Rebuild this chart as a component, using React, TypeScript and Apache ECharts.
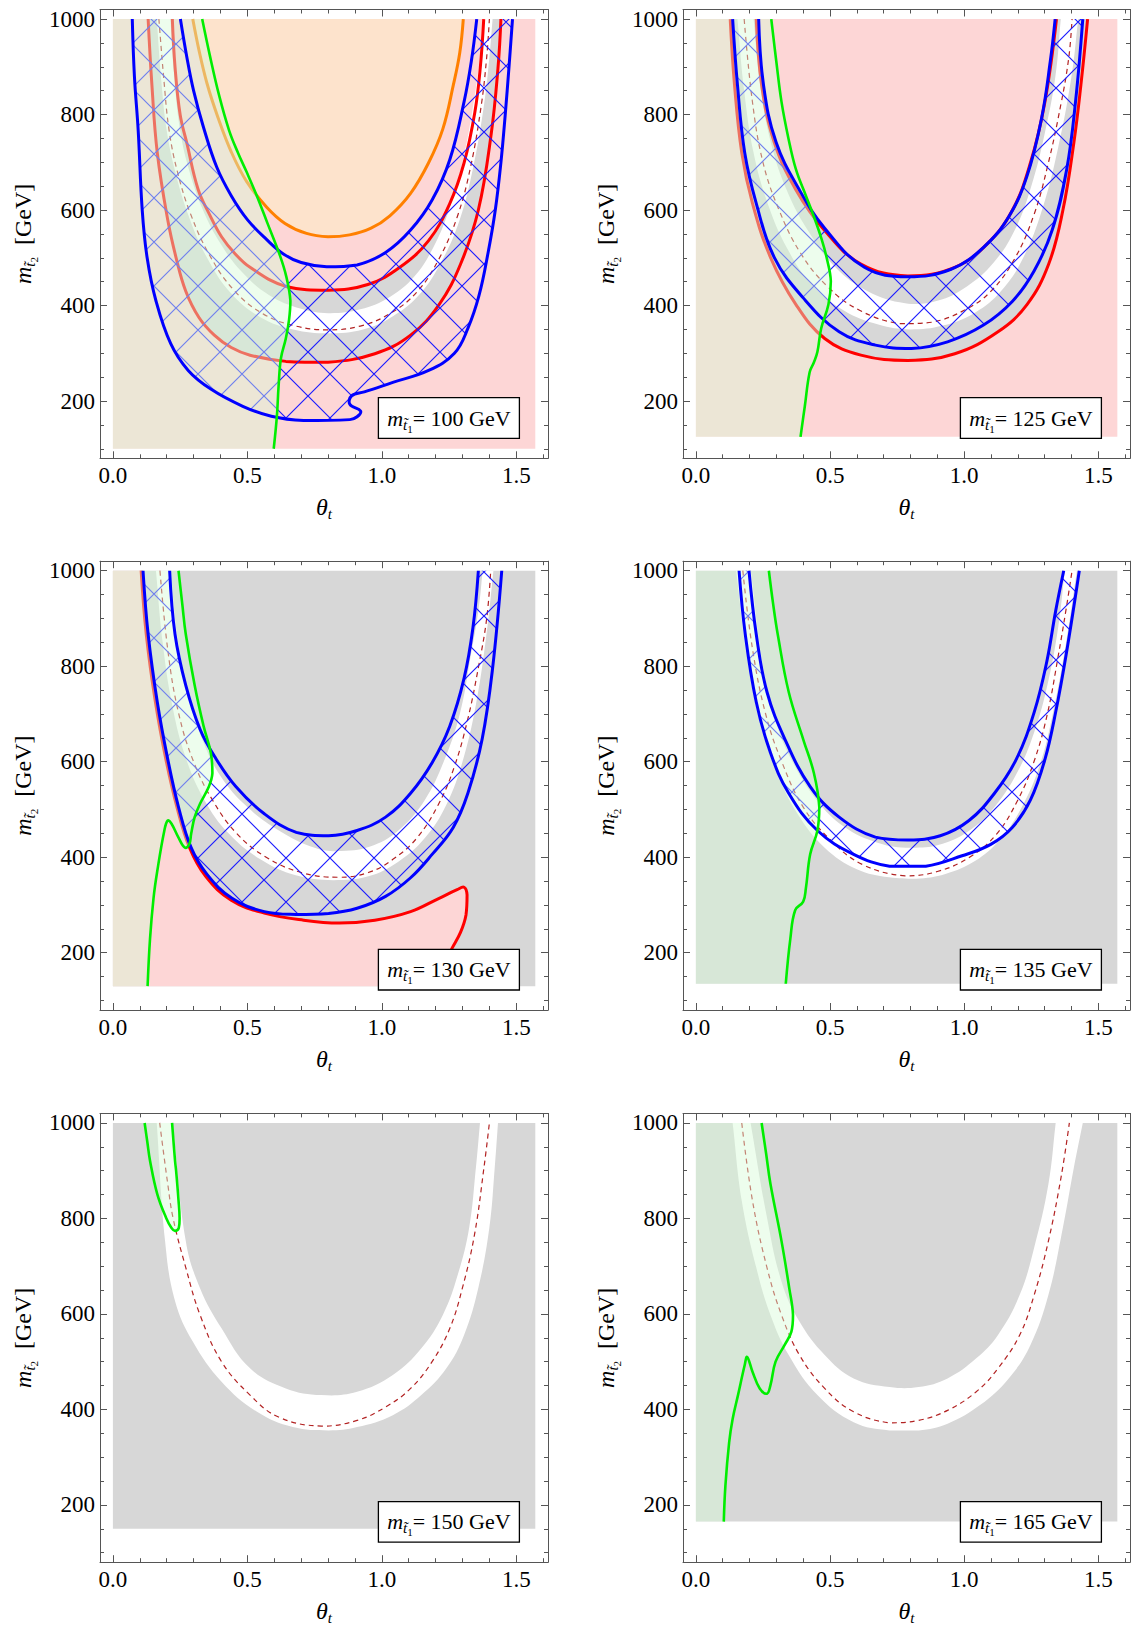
import React, { useEffect, useRef } from 'react';
import * as echarts from 'echarts';

// ---------- axis / tick data ----------
const THETA_MAX = 1.5708;
const M_MAX = 1000;
const X_MIN = -0.048;
const X_MAX = 1.618;
const Y_MIN = 80;
const Y_MAX = 1020;
const X_MAJOR = [0, 0.5, 1, 1.5];
const X_MINOR = [0.1, 0.2, 0.3, 0.4, 0.6, 0.7, 0.8, 0.9, 1.1, 1.2, 1.3, 1.4, 1.6];
const Y_MAJOR = [200, 400, 600, 800, 1000];
const Y_MINOR = [100, 150, 250, 300, 350, 450, 500, 550, 650, 700, 750, 850, 900, 950];
const M_T1 = [100, 125, 130, 135, 150, 165];

// ---------- panel 1 (m_t1 = 100 GeV) ----------
const P1_ORANGE = [[0.297,1000],[0.32,935],[0.35,865],[0.39,795],[0.44,722],[0.497,660],[0.572,606],[0.64,572],[0.72,551],[0.80,544],[0.88,548],[0.96,562],[1.03,588],[1.107,635],[1.174,699],[1.227,770],[1.266,862],[1.29,930],[1.303,1000]];
const P1_RED_OUT = [[0.131,1000],[0.145,862],[0.165,720],[0.204,579],[0.235,500],[0.271,430],[0.32,375],[0.377,338],[0.44,312],[0.51,296],[0.643,283],[0.80,281],[0.974,299],[1.107,338],[1.213,402],[1.293,487],[1.359,600],[1.406,756],[1.432,897],[1.443,1000]];
const P1_RED_IN = [[0.221,1000],[0.231,900],[0.25,800],[0.275,740],[0.317,643],[0.36,590],[0.404,544],[0.455,508],[0.51,480],[0.643,440],[0.80,432],[0.948,444],[1.067,480],[1.174,536],[1.253,614],[1.306,699],[1.346,805],[1.366,897],[1.379,1000]];
const P1_WHITE_OUT = [[0.163,1000],[0.18,870],[0.20,767],[0.232,680],[0.28,590],[0.35,500],[0.44,425],[0.55,375],[0.67,350],[0.80,342],[0.93,350],[1.04,377],[1.14,423],[1.22,490],[1.29,580],[1.34,690],[1.38,820],[1.40,920],[1.412,1000]];
const P1_WHITE_IN = [[0.214,1000],[0.228,880],[0.25,767],[0.285,680],[0.335,600],[0.40,530],[0.48,470],[0.58,422],[0.70,393],[0.80,384],[0.92,392],[1.03,418],[1.12,460],[1.19,520],[1.25,600],[1.30,700],[1.34,820],[1.365,920],[1.378,1000]];
const P1_DASH = [[0.171,1000],[0.19,870],[0.209,767],[0.24,680],[0.29,590],[0.36,505],[0.45,432],[0.56,382],[0.68,357],[0.80,349],[0.92,357],[1.03,383],[1.13,428],[1.21,495],[1.28,585],[1.33,690],[1.37,820],[1.39,920],[1.40,1000]];
const P1_BLUE_OUT = [[0.072,1000],[0.08,880],[0.094,767],[0.109,600],[0.127,501],[0.16,410],[0.215,320],[0.28,264],[0.364,225],[0.483,189],[0.589,168],[0.709,159],[0.881,161],[0.908,167],[0.921,179],[0.881,193],[0.888,211],[0.935,219],[1.041,239],[1.174,264],[1.27,300],[1.32,352],[1.361,420],[1.395,510],[1.422,600],[1.443,700],[1.459,800],[1.473,900],[1.486,1000]];
const P1_BLUE_IN = [[0.251,1000],[0.275,920],[0.30,850],[0.336,775],[0.386,690],[0.44,630],[0.50,580],[0.572,538],[0.634,508],[0.70,490],[0.795,481],[0.908,485],[1.014,511],[1.107,558],[1.187,621],[1.253,706],[1.306,827],[1.333,912],[1.353,1000]];
const P1_GREEN = [[0.332,1000],[0.36,925],[0.395,840],[0.432,767],[0.465,720],[0.497,680],[0.535,630],[0.575,572],[0.621,505],[0.645,460],[0.66,410],[0.655,370],[0.643,331],[0.625,290],[0.616,230],[0.61,170],[0.598,100]];

// ---------- panel 2 (125 GeV) ----------
const P2_RED_OUT = [[0.128,1000],[0.144,862],[0.171,720],[0.211,614],[0.278,501],[0.373,402],[0.48,331],[0.615,296],[0.79,285],[0.965,299],[1.126,345],[1.234,402],[1.315,487],[1.368,600],[1.409,742],[1.435,862],[1.46,1000]];
const P2_RED_IN = [[0.225,1000],[0.245,862],[0.292,742],[0.373,642],[0.48,557],[0.615,487],[0.79,462],[0.965,480],[1.086,529],[1.18,600],[1.247,699],[1.301,827],[1.344,1000]];
const P2_WHITE_OUT = [[0.155,1000],[0.18,850],[0.215,720],[0.27,610],[0.34,520],[0.43,445],[0.55,390],[0.68,360],[0.80,350],[0.92,358],[1.04,385],[1.14,432],[1.22,500],[1.29,600],[1.35,730],[1.40,880],[1.425,1000]];
const P2_WHITE_IN = [[0.215,1000],[0.24,860],[0.28,740],[0.34,640],[0.42,555],[0.52,480],[0.64,430],[0.78,405],[0.90,410],[1.01,440],[1.11,490],[1.19,560],[1.25,650],[1.30,760],[1.34,880],[1.36,1000]];
const P2_DASH = [[0.18,1000],[0.21,830],[0.25,700],[0.31,600],[0.39,510],[0.49,440],[0.61,390],[0.76,362],[0.88,365],[1.00,390],[1.10,430],[1.19,500],[1.26,590],[1.31,690],[1.36,820],[1.39,920],[1.402,1000]];
const P2_BLUE_OUT = [[0.137,1000],[0.155,862],[0.182,720],[0.225,614],[0.292,501],[0.40,416],[0.534,345],[0.669,317],[0.803,310],[0.938,324],[1.072,359],[1.18,409],[1.261,473],[1.328,558],[1.382,685],[1.415,827],[1.442,1000]];
const P2_BLUE_IN = [[0.234,1000],[0.252,862],[0.299,742],[0.386,642],[0.48,562],[0.628,480],[0.79,460],[0.951,476],[1.072,522],[1.166,586],[1.234,671],[1.288,791],[1.321,912],[1.339,1000]];
const P2_GREEN = [[0.281,1000],[0.30,910],[0.319,827],[0.345,750],[0.373,685],[0.41,630],[0.44,586],[0.468,540],[0.487,501],[0.503,451],[0.494,402],[0.467,352],[0.453,303],[0.44,281],[0.424,260],[0.406,189],[0.39,125]];

// ---------- panel 3 (130 GeV) ----------
const P3_RED = [[0.105,1000],[0.124,867],[0.158,725],[0.197,605],[0.238,505],[0.285,420],[0.345,360],[0.44,310],[0.563,283],[0.709,268],[0.842,262],[0.974,268],[1.107,286],[1.213,314],[1.28,332],[1.306,337],[1.317,321],[1.313,279],[1.293,243],[1.26,208],[1.24,185],[1.225,160],[1.215,130]];
const P3_WHITE_OUT = [[0.16,1000],[0.185,850],[0.22,720],[0.27,610],[0.34,520],[0.43,450],[0.55,395],[0.68,362],[0.82,352],[0.95,360],[1.06,390],[1.16,440],[1.24,510],[1.30,600],[1.35,720],[1.39,870],[1.415,1000]];
const P3_WHITE_IN = [[0.215,1000],[0.24,860],[0.28,740],[0.33,650],[0.40,570],[0.50,505],[0.62,455],[0.75,420],[0.85,413],[0.97,425],[1.07,460],[1.16,520],[1.23,600],[1.29,700],[1.33,820],[1.36,920],[1.375,1000]];
const P3_DASH = [[0.175,1000],[0.205,830],[0.245,700],[0.30,600],[0.37,520],[0.46,450],[0.57,400],[0.70,368],[0.84,358],[0.95,368],[1.04,395],[1.13,440],[1.21,510],[1.27,590],[1.32,690],[1.36,800],[1.39,900],[1.405,1000]];
const P3_BLUE_OUT = [[0.112,1000],[0.131,867],[0.165,725],[0.204,605],[0.244,505],[0.291,420],[0.35,364],[0.443,314],[0.563,286],[0.682,280],[0.802,282],[0.908,293],[1.014,318],[1.107,357],[1.187,406],[1.266,463],[1.32,534],[1.373,647],[1.412,796],[1.446,1000]];
const P3_BLUE_IN = [[0.211,1000],[0.231,867],[0.271,760],[0.324,668],[0.377,612],[0.457,548],[0.563,491],[0.682,452],[0.802,445],[0.908,456],[1.014,484],[1.107,534],[1.187,598],[1.253,675],[1.306,775],[1.339,881],[1.359,1000]];
const P3_GREEN = [[0.244,1000],[0.258,930],[0.271,867],[0.304,760],[0.337,675],[0.364,619],[0.37,576],[0.357,548],[0.324,512],[0.304,484],[0.291,449],[0.284,427],[0.268,420],[0.244,441],[0.218,470],[0.204,477],[0.191,455],[0.165,371],[0.151,314],[0.138,229],[0.129,130]];

// ---------- panel 4 (135 GeV) ----------
const P4_WHITE_OUT = [[0.15,1000],[0.19,820],[0.24,680],[0.30,580],[0.38,490],[0.48,420],[0.60,375],[0.72,358],[0.82,355],[0.93,365],[1.04,392],[1.13,435],[1.21,500],[1.28,590],[1.33,700],[1.38,850],[1.42,1000]];
const P4_WHITE_IN = [[0.205,1000],[0.25,800],[0.30,680],[0.36,600],[0.45,520],[0.55,465],[0.68,430],[0.80,420],[0.92,428],[1.03,460],[1.12,510],[1.20,580],[1.26,660],[1.31,760],[1.35,880],[1.375,1000]];
const P4_DASH = [[0.175,1000],[0.21,840],[0.26,700],[0.32,600],[0.40,505],[0.50,437],[0.62,385],[0.78,361],[0.90,370],[1.02,400],[1.12,448],[1.20,520],[1.26,600],[1.31,700],[1.35,820],[1.38,920],[1.402,1000]];
const P4_BLUE_OUT = [[0.161,1000],[0.184,867],[0.225,725],[0.278,619],[0.346,534],[0.453,456],[0.588,406],[0.722,381],[0.857,381],[0.992,403],[1.099,427],[1.18,463],[1.247,520],[1.301,605],[1.341,704],[1.382,831],[1.429,1000]];
const P4_BLUE_IN = [[0.198,1000],[0.225,867],[0.265,746],[0.332,647],[0.426,548],[0.534,484],[0.669,442],[0.79,436],[0.911,445],[1.018,477],[1.113,534],[1.194,605],[1.261,704],[1.308,810],[1.341,916],[1.371,1000]];
const P4_GREEN = [[0.272,1000],[0.288,930],[0.305,867],[0.346,746],[0.40,647],[0.44,576],[0.46,505],[0.453,456],[0.426,406],[0.41,335],[0.40,307],[0.37,289],[0.352,229],[0.335,135]];

// ---------- panel 5 (150 GeV) ----------
const P5_WHITE_OUT = [[0.163,1000],[0.194,753],[0.231,627],[0.297,542],[0.404,458],[0.536,395],[0.669,363],[0.802,356],[0.908,363],[1.041,388],[1.147,430],[1.24,486],[1.306,556],[1.359,655],[1.40,781],[1.42,907],[1.432,1000]];
const P5_WHITE_IN = [[0.222,1000],[0.271,753],[0.324,654],[0.404,570],[0.51,486],[0.643,444],[0.775,430],[0.908,437],[1.041,472],[1.147,528],[1.227,598],[1.283,683],[1.325,781],[1.35,907],[1.365,1000]];
const P5_DASH = [[0.174,1000],[0.204,872],[0.224,800],[0.271,697],[0.324,598],[0.404,500],[0.51,430],[0.616,384],[0.775,365],[0.908,377],[1.014,405],[1.107,444],[1.187,500],[1.253,570],[1.30,655],[1.345,767],[1.38,907],[1.40,1000]];
const P5_GREEN = [[0.118,1000],[0.128,960],[0.138,921],[0.165,851],[0.198,801],[0.218,780],[0.231,774],[0.245,780],[0.248,800],[0.244,838],[0.235,900],[0.231,921],[0.22,1000]];

// ---------- panel 6 (165 GeV) ----------
const P6_WHITE_OUT = [[0.137,1000],[0.171,837],[0.225,697],[0.278,598],[0.346,514],[0.453,430],[0.588,373],[0.722,356],[0.83,356],[0.938,370],[1.059,409],[1.166,465],[1.247,535],[1.314,640],[1.368,781],[1.409,907],[1.442,1000]];
const P6_WHITE_IN = [[0.204,1000],[0.265,802],[0.319,668],[0.386,584],[0.48,514],[0.588,465],[0.722,447],[0.83,447],[0.938,465],[1.045,507],[1.126,556],[1.207,640],[1.261,739],[1.314,872],[1.341,1000]];
const P6_DASH = [[0.171,1000],[0.211,837],[0.265,697],[0.319,598],[0.386,514],[0.48,444],[0.588,395],[0.722,372],[0.83,377],[0.938,398],[1.045,437],[1.126,486],[1.207,556],[1.261,640],[1.314,753],[1.361,886],[1.392,1000]];
const P6_GREEN = [[0.245,1000],[0.262,935],[0.278,872],[0.319,753],[0.348,654],[0.362,598],[0.356,563],[0.331,535],[0.297,500],[0.278,451],[0.265,433],[0.238,444],[0.211,479],[0.191,510],[0.182,493],[0.157,430],[0.137,380],[0.124,331],[0.11,240],[0.104,165]];

// ---------- styles ----------
const SERIF = "'Liberation Serif', 'Times New Roman', serif";
const PINK = '#fdd6d6';
const GRAY = '#d7d7d7';
const WHITE = '#ffffff';
const ORANGE_FILL = '#fde3cc';
const GREEN_OVER = 'rgba(215,250,215,0.45)';
const BLUE = '#0000ff';
const RED = '#ff0000';
const ORANGE = '#ff8000';
const GREEN = '#00ee00';
const DASH = '#b22222';
const FRAME = '#555555';
const SMOOTH = 0.4;
const BIG_BOX = [[Infinity, Infinity], [-Infinity, -Infinity]];

const HATCH_IMG =
  'data:image/svg+xml;charset=utf-8,' +
  encodeURIComponent(
    '<svg xmlns="http://www.w3.org/2000/svg" width="44" height="44"><path d="M0 0L44 44M44 0L0 44" stroke="#1c1cff" stroke-width="1.2" fill="none"/></svg>'
  );
const HATCH_FILL = { image: HATCH_IMG, repeat: 'repeat', imageWidth: 44, imageHeight: 44 };

// ---------- layout ----------
const COL_LEFT = [100, 683];
const COL_WIDTH = [448, 447];
const ROW_TOP = [9.5, 561.2, 1113.4];
const PLOT_H = 448.8;

const PANELS = [
  { m: M_T1[0], base: PINK, gray: [P1_RED_OUT, P1_RED_IN], white: [P1_WHITE_OUT, P1_WHITE_IN], orange: P1_ORANGE, reds: [P1_RED_OUT, P1_RED_IN], dash: P1_DASH, blue: [P1_BLUE_OUT, P1_BLUE_IN], green: P1_GREEN },
  { m: M_T1[1], base: PINK, gray: [P2_RED_OUT, P2_RED_IN], white: [P2_WHITE_OUT, P2_WHITE_IN], reds: [P2_RED_OUT, P2_RED_IN], dash: P2_DASH, blue: [P2_BLUE_OUT, P2_BLUE_IN], green: P2_GREEN },
  { m: M_T1[2], base: GRAY, white: [P3_WHITE_OUT, P3_WHITE_IN], pink: P3_RED, reds: [P3_RED], dash: P3_DASH, blue: [P3_BLUE_OUT, P3_BLUE_IN], green: P3_GREEN },
  { m: M_T1[3], base: GRAY, white: [P4_WHITE_OUT, P4_WHITE_IN], dash: P4_DASH, blue: [P4_BLUE_OUT, P4_BLUE_IN], green: P4_GREEN },
  { m: M_T1[4], base: GRAY, white: [P5_WHITE_OUT, P5_WHITE_IN], dash: P5_DASH, green: P5_GREEN, loop: true },
  { m: M_T1[5], base: GRAY, white: [P6_WHITE_OUT, P6_WHITE_IN], dash: P6_DASH, green: P6_GREEN },
];

// closed outline from several pieces; each piece's end points are doubled so the
// joins stay sharp corners while the pieces themselves are smoothed
const outline = (...segs: number[][][]) => {
  const out: number[][] = [];
  segs.forEach((s) => {
    if (s.length === 1) {
      out.push(s[0], s[0]);
    } else {
      out.push(s[0], ...s, s[s.length - 1]);
    }
  });
  return out;
};
const rev = (a: number[][]) => a.slice().reverse();

function shapeSeries(p: number, pts: number[][], z: number, kind: string, style: any, smooth: number) {
  return {
    type: 'custom',
    coordinateSystem: 'cartesian2d',
    xAxisIndex: 4 * p,
    yAxisIndex: 4 * p,
    data: pts,
    z,
    silent: true,
    animation: false,
    clip: false,
    renderItem: (params: any, api: any) => {
      if (params.dataIndex !== 0) return null;
      const n = params.dataInsideLength || pts.length;
      const points: number[][] = [];
      for (let i = 0; i < n; i++) points.push(api.coord([api.value(0, i), api.value(1, i)]));
      return {
        type: kind,
        shape: { points, smooth, smoothConstraint: BIG_BOX },
        style,
        silent: true,
      };
    },
  };
}

function makeAxis(p: number, isX: boolean, position: string, major: boolean, labels: boolean) {
  return {
    type: 'value',
    gridIndex: p,
    position,
    min: isX ? X_MIN : Y_MIN,
    max: isX ? X_MAX : Y_MAX,
    silent: true,
    axisLine: { show: major, onZero: false, lineStyle: { color: FRAME, width: 1 } },
    axisTick: {
      show: true,
      inside: true,
      length: major ? 7 : 4,
      customValues: isX ? (major ? X_MAJOR : X_MINOR) : major ? Y_MAJOR : Y_MINOR,
      lineStyle: { color: FRAME, width: 1 },
    },
    splitLine: { show: false },
    minorTick: { show: false },
    axisLabel: labels
      ? {
          show: true,
          customValues: isX ? X_MAJOR : Y_MAJOR,
          formatter: (v: number) => (isX ? v.toFixed(1) : String(v)),
          fontFamily: SERIF,
          fontSize: 23,
          color: '#000',
          margin: isX ? 6 : 5,
        }
      : { show: false },
  };
}

const RICH_TITLE = {
  i: { fontFamily: SERIF, fontStyle: 'italic', fontSize: 24, fill: '#000' },
  s: { fontFamily: SERIF, fontStyle: 'italic', fontSize: 15, fill: '#000', padding: [14, 0, 0, 0] },
  ss: { fontFamily: SERIF, fontSize: 11, fill: '#000', padding: [22, 0, 0, 0] },
  n: { fontFamily: SERIF, fontSize: 24, fill: '#000' },
};
const RICH_BOX = {
  i: { fontFamily: SERIF, fontStyle: 'italic', fontSize: 22, fill: '#000' },
  s: { fontFamily: SERIF, fontStyle: 'italic', fontSize: 15, fill: '#000', padding: [13, 0, 0, 0] },
  ss: { fontFamily: SERIF, fontSize: 11, fill: '#000', padding: [21, 0, 0, 0] },
  n: { fontFamily: SERIF, fontSize: 22, fill: '#000' },
};

function buildOption() {
  const grid: any[] = [];
  const xAxis: any[] = [];
  const yAxis: any[] = [];
  const series: any[] = [];
  const elements: any[] = [];

  PANELS.forEach((P: any, p: number) => {
    const col = p % 2;
    const row = Math.floor(p / 2);
    const gl = COL_LEFT[col];
    const gw = COL_WIDTH[col];
    const gt = ROW_TOP[row];
    grid.push({ left: gl, top: gt, width: gw, height: PLOT_H, containLabel: false, outerBoundsMode: 'none' });

    xAxis.push(makeAxis(p, true, 'bottom', true, true));
    xAxis.push(makeAxis(p, true, 'bottom', false, false));
    xAxis.push(makeAxis(p, true, 'top', true, false));
    xAxis.push(makeAxis(p, true, 'top', false, false));
    yAxis.push(makeAxis(p, false, 'left', true, true));
    yAxis.push(makeAxis(p, false, 'left', false, false));
    yAxis.push(makeAxis(p, false, 'right', true, false));
    yAxis.push(makeAxis(p, false, 'right', false, false));

    const fill = (pts: number[][], color: any, z: number, smooth = SMOOTH) =>
      series.push(shapeSeries(p, pts, z, 'polygon', { fill: color, stroke: 'none' }, smooth));
    const line = (pts: number[][], color: string, width: number, z: number, dash?: number[]) =>
      series.push(
        shapeSeries(p, pts, z, 'polyline', { stroke: color, lineWidth: width, fill: 'none', lineDash: dash || null, lineJoin: 'round', lineCap: 'butt' }, SMOOTH)
      );

    const topLeft = [[0, M_MAX]];
    const bottomLeft = [[0, P.m]];
    const base = [[0, P.m], [THETA_MAX, P.m], [THETA_MAX, M_MAX], [0, M_MAX]];
    fill(base, P.base, 1, 0);
    if (P.gray) fill(outline(P.gray[0], rev(P.gray[1])), GRAY, 2);
    fill(outline(P.white[0], rev(P.white[1])), WHITE, 3);
    if (P.pink) fill(outline(topLeft, P.pink, bottomLeft), PINK, 4);
    if (P.orange) fill(outline(P.orange), ORANGE_FILL, 5);
    if (P.orange) line(P.orange, ORANGE, 3, 6);
    (P.reds || []).forEach((r: number[][]) => line(r, RED, 3, 6));
    line(P.dash, DASH, 1.2, 7, [5, 4]);
    if (P.blue) fill(outline(P.blue[0], rev(P.blue[1])), HATCH_FILL, 8);
    const over = P.loop ? outline(P.green) : outline(topLeft, P.green, bottomLeft);
    fill(over, GREEN_OVER, 9);
    if (P.blue) {
      line(P.blue[0], BLUE, 3, 10);
      line(P.blue[1], BLUE, 3, 10);
    }
    line(P.green, GREEN, 2.6, 11);

    // axis titles
    elements.push({
      type: 'text',
      x: gl - 77,
      y: gt + PLOT_H / 2,
      rotation: Math.PI / 2,
      z: 50,
      silent: true,
      style: { text: '{i|m}{s|t\u0303}{ss|2}{n|  [GeV]}', rich: RICH_TITLE, align: 'center', verticalAlign: 'middle' },
    });
    elements.push({
      type: 'text',
      x: gl + gw / 2,
      y: gt + PLOT_H + 49,
      z: 50,
      silent: true,
      style: { text: '{i|\u03b8}{s|t}', rich: RICH_TITLE, align: 'center', verticalAlign: 'middle' },
    });

    // mass label box
    const bw = 141;
    const bh = 40.6;
    const bx = gl + gw - 28.6 - bw;
    const by = gt + PLOT_H - 20 - bh;
    elements.push({
      type: 'rect',
      x: bx,
      y: by,
      z: 50,
      silent: true,
      shape: { x: 0, y: 0, width: bw, height: bh },
      style: { fill: '#ffffff', stroke: '#000000', lineWidth: 1.3 },
    });
    elements.push({
      type: 'text',
      x: bx + bw / 2,
      y: by + bh / 2,
      z: 51,
      silent: true,
      style: {
        text: '{i|m}{s|t\u0303}{ss|1}{n|= ' + P.m + ' GeV}',
        rich: RICH_BOX,
        align: 'center',
        verticalAlign: 'middle',
      },
    });
  });

  return {
    animation: false,
    backgroundColor: '#ffffff',
    grid,
    xAxis,
    yAxis,
    series,
    graphic: { elements },
  };
}

export default function App() {
  const ref = useRef<HTMLDivElement>(null);
  useEffect(() => {
    const chart = echarts.init(ref.current as HTMLDivElement, null, { renderer: 'svg' });
    chart.setOption(buildOption() as any);
    return () => chart.dispose();
  }, []);
  return (
    <div
      ref={ref}
      style={{ position: 'absolute', left: 0, top: 0, width: 1131, height: 1625, background: '#ffffff' }}
    />
  );
}
